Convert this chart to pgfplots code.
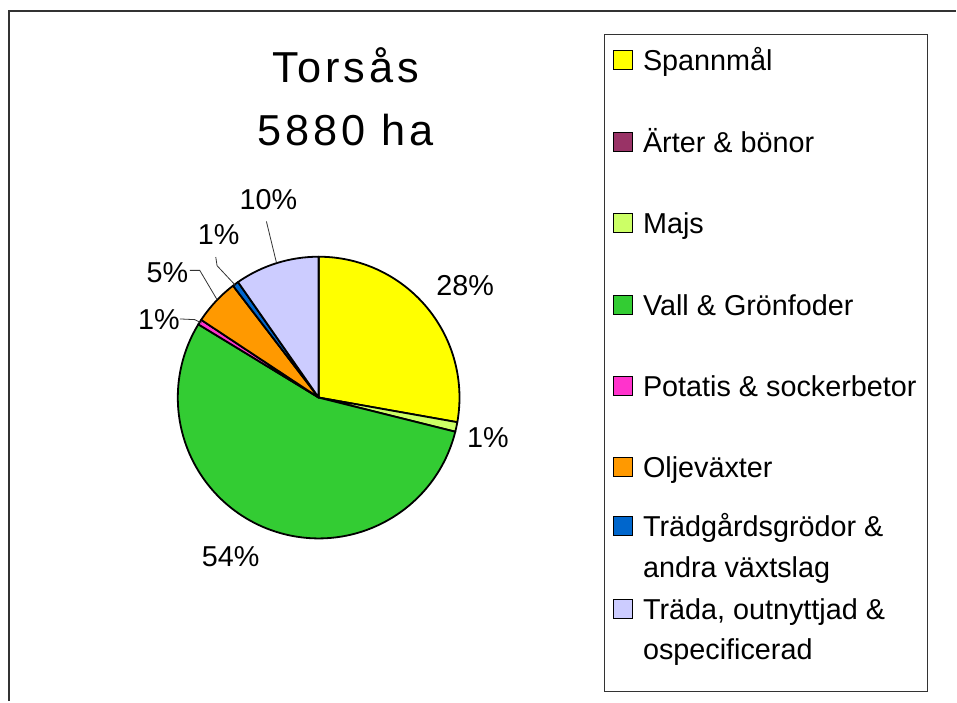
\documentclass[border=0pt]{standalone}
\usepackage{pgfplots}
\usepackage{pgfplotstable}
\pgfplotsset{compat=1.18}
\usepackage{fontspec}
\setmainfont{Liberation Sans}
\definecolor{cSpann}{HTML}{FFFF00}
\definecolor{cArter}{HTML}{993366}
\definecolor{cMajs}{HTML}{CCFF66}
\definecolor{cVall}{HTML}{33CC33}
\definecolor{cPotatis}{HTML}{FF33CC}
\definecolor{cOlje}{HTML}{FF9900}
\definecolor{cTradg}{HTML}{0066CC}
\definecolor{cTrada}{HTML}{CCCCFF}
\definecolor{frameC}{HTML}{333333}

% share of the 5880 ha (percent), clockwise from 12 o'clock
\pgfplotstableread{
pct  col
27.8 cSpann
0.0  cArter
1.1  cMajs
54.8 cVall
0.6  cPotatis
5.3  cOlje
0.7  cTradg
9.7  cTrada
}\piedata

\newcommand\lblfont{\fontsize{21.6pt}{25pt}\selectfont}
\newcommand\ttlfont{\fontsize{32.5pt}{38pt}\selectfont\addfontfeature{LetterSpace=9}}

\begin{document}
\begin{tikzpicture}
\begin{axis}[
  width=717.75pt, height=526.5pt, scale only axis,
  xmin=0, xmax=957, ymin=0, ymax=702,
  hide axis, clip=false]
\pgfplotsextra{%
  \path (axis cs:0,0) rectangle (axis cs:957,702);
  % outer frame
  \draw[frameC, line width=1.6pt] (axis cs:9,0) -- (axis cs:9,691) -- (axis cs:957,691);
  % pie
  \xdef\curang{90}%
  \foreach \i in {0,...,7}{%
    \pgfplotstablegetelem{\i}{pct}\of\piedata \let\pct\pgfplotsretval
    \pgfplotstablegetelem{\i}{col}\of\piedata \let\col\pgfplotsretval
    \pgfmathsetmacro\endang{\curang-3.6*\pct}%
    \ifdim\pct pt>0pt
      \filldraw[fill=\col, draw=black, line width=1.35pt, line join=round]
        (axis cs:319,304) -- ++(\curang:105.75pt)
        arc[start angle=\curang, end angle=\endang, radius=105.75pt] -- cycle;
    \fi
    \xdef\curang{\endang}%
  }
  % leader lines
  \draw[frameC, line width=0.6pt] (axis cs:266.7,480.3) -- (axis cs:276.7,439.3);
  \draw[frameC, line width=0.6pt] (axis cs:216,444.7) -- (axis cs:217.3,436) -- (axis cs:236,416);
  \draw[frameC, line width=0.6pt] (axis cs:190,431.3) -- (axis cs:200,431.3) -- (axis cs:217.3,402);
  \draw[frameC, line width=0.6pt] (axis cs:180,382.7) -- (axis cs:195,382) -- (axis cs:201.7,378.7);
  % percent labels
  \node[anchor=base, inner sep=0, font=\lblfont] at (axis cs:465.7,406) {28\%};
  \node[anchor=base, inner sep=0, font=\lblfont] at (axis cs:488.5,254) {1\%};
  \node[anchor=base, inner sep=0, font=\lblfont] at (axis cs:231,135) {54\%};
  \node[anchor=base, inner sep=0, font=\lblfont] at (axis cs:159,372) {1\%};
  \node[anchor=base, inner sep=0, font=\lblfont] at (axis cs:167.5,418.7) {5\%};
  \node[anchor=base, inner sep=0, font=\lblfont] at (axis cs:219,457) {1\%};
  \node[anchor=base, inner sep=0, font=\lblfont] at (axis cs:268.7,492.7) {10\%};
  % title
  \node[anchor=base, inner sep=0, font=\ttlfont] at (axis cs:346,619.3) {Torsås};
  \node[anchor=base, inner sep=0, font=\ttlfont] at (axis cs:346,556) {5880 ha};
  % legend
  \draw[frameC, line width=0.75pt] (axis cs:605,10) rectangle (axis cs:929,667);
  \foreach \b/\c/\t in {71/cSpann/{Spannmål}, 152.5/cArter/{Ärter \& bönor}, 234/cMajs/{Majs},
      315.5/cVall/{Vall \& Grönfoder}, 397/cPotatis/{Potatis \& sockerbetor}, 478.5/cOlje/{Oljeväxter},
      537/cTradg/{Trädgårdsgrödor \&}, 620/cTrada/{Träda, outnyttjad \&}}{%
    \pgfmathsetmacro\ybot{702-\b+1}%
    \pgfmathsetmacro\ytop{702-\b+20}%
    \pgfmathsetmacro\ybase{702-\b}%
    \filldraw[fill=\c, draw=black, line width=0.75pt] (axis cs:614.3,\ybot) rectangle (axis cs:633.3,\ytop);
    \node[anchor=base west, inner sep=0, font=\lblfont] at (axis cs:643.5,\ybase) {\t};
  }
  \node[anchor=base west, inner sep=0, font=\lblfont] at (axis cs:643.5,124) {andra växtslag};
  \node[anchor=base west, inner sep=0, font=\lblfont] at (axis cs:643.5,42) {ospecificerad};
}
\end{axis}
\end{tikzpicture}
\end{document}
